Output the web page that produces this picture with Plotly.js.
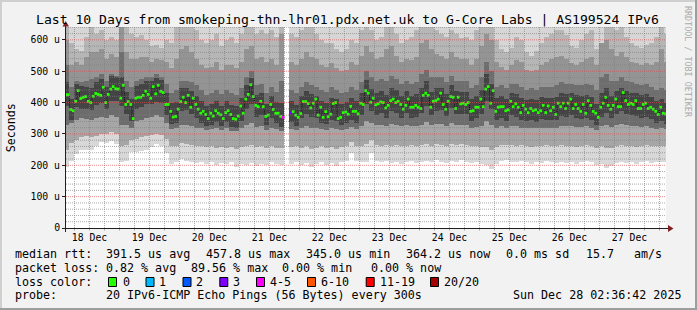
<!DOCTYPE html>
<html><head><meta charset="utf-8">
<script src="https://cdn.plot.ly/plotly-3.0.1.min.js"></script>
<style>html,body{margin:0;padding:0;background:#f2f2f2;overflow:hidden}#chart{width:697px;height:310px}</style>
</head><body><div id="chart"></div>
<script>
// ---------------- data ----------------
// hourly median RTT (microseconds), first hour = 2025-12-18 02:00 UTC
const medianRtt = [
425,
425,378,374,404,438,413,417,419,404,400,420,429,426,423,449,400,426,443,451,444,443,414,455,394,403,394,349,414,417,417,423,436,426,414,451,428,455,436,432,394,
394,372,354,356,379,403,417,400,423,385,414,394,379,366,372,362,349,366,357,374,366,361,349,368,374,362,349,347,357,389,366,411,426,457,419,391,387,404,387,356,
360,394,378,366,366,356,353,null,null,367,371,360,353,365,403,403,397,383,398,411,360,385,353,371,355,363,397,400,349,353,368,370,363,388,372,372,364,398,394,438,430,
401,414,393,396,402,400,383,391,406,411,400,404,394,379,391,411,385,385,391,385,381,423,430,423,385,404,406,411,430,394,379,404,419,417,381,417,396,398,394,400,
372,374,385,385,411,387,443,451,398,438,372,385,387,387,374,377,404,387,396,385,368,391,379,368,381,374,377,368,374,391,368,389,374,385,362,398,387,398,381,398,
411,381,394,381,372,394,366,406,391,372,366,353,385,398,417,391,379,391,411,387,387,432,406,394,398,394,406,381,381,394,398,381,385,379,372,362,385,366,364
];
// hours with packet loss and their loss class
const lossHour = [87, 90];
const lossClass = ['4-5', '3'];
const lossLabels = ['0','1','2','3','4-5','6-10','11-19','20/20'];
const lossColors = ['#26ff00','#00b8ff','#0059ff','#7e00ff','#ff00ff','#ff5500','#ff0000','#a10000'];

// 2-hourly smoke distribution (microseconds), first column = 2025-12-18 02:00-04:00 UTC
const smokeMin = [
195,215,235,248,250,250,262,275,272,278,268,210,215,243,242,245,248,258,268,262,
240,205,210,220,215,212,208,210,205,210,200,207,203,210,195,205,200,206,198,205,200,
210,203,200,null,205,212,200,207,195,203,210,200,206,198,210,215,238,215,210,
212,240,215,210,213,208,212,205,210,214,208,212,215,210,216,212,208,215,212,218,212,
208,210,205,200,188,205,214,218,212,210,215,210,205,212,208,214,210,206,212,208,
210,205,212,215,210,200,205,192,198,208,212,206,210,205,210,215,208,212,210,210];
const smokeP15 = [
250,270,280,290,292,290,295,300,300,305,300,260,265,280,285,290,292,298,300,298,
285,260,262,270,268,265,262,262,258,260,255,258,255,258,252,258,260,265,258,262,255,
260,255,255,null,258,260,255,260,252,256,260,255,258,252,258,262,275,262,262,
268,280,265,262,265,262,265,260,262,265,260,264,268,262,268,265,262,268,265,268,264,
260,262,258,258,250,258,264,266,264,262,264,262,258,262,260,264,262,260,264,262,
262,258,262,265,262,255,260,255,256,262,265,262,262,258,262,265,260,262,262,262];
const smokeP30 = [
330,335,345,350,348,345,350,355,350,360,355,330,330,320,340,345,350,355,360,355,
335,315,318,330,330,325,320,318,312,315,318,312,318,310,308,318,330,335,322,325,312,
320,315,310,null,315,312,318,325,320,318,315,312,318,315,312,315,322,316,325,
340,335,328,330,325,332,330,325,330,325,325,330,338,328,332,332,326,335,330,330,328,
318,322,325,340,330,320,325,320,326,325,320,318,318,318,320,320,320,320,325,325,
326,322,322,324,320,312,325,328,322,328,332,328,326,325,322,324,320,316,318,315];
const smokeP40 = [
390,345,385,380,378,376,392,398,378,405,405,390,365,340,380,385,395,395,402,398,
360,332,335,372,375,365,352,336,325,330,338,324,338,322,320,342,380,395,355,360,328,
352,335,322,null,338,325,350,365,355,350,336,332,346,340,328,334,346,336,360,
395,372,360,366,352,372,368,352,366,350,354,366,388,360,372,376,356,382,364,362,362,
340,350,362,405,380,344,352,342,360,355,345,340,343,338,348,344,345,346,356,354,
360,352,348,350,346,328,355,368,350,362,372,364,360,358,352,354,348,335,342,332];
const smokeP60 = [
465,412,458,452,450,448,465,475,450,485,480,480,435,410,452,458,468,470,478,472,
430,398,402,448,448,436,422,405,390,396,405,390,406,392,388,414,455,478,425,430,395,
422,402,400,null,405,392,420,438,426,420,405,398,416,410,396,402,416,404,432,
472,444,430,438,424,446,440,422,438,422,426,445,468,434,446,448,428,456,436,434,434,
410,422,440,490,460,414,422,410,432,428,415,408,412,408,418,414,415,418,430,426,
432,424,420,424,418,396,432,445,422,436,448,438,432,430,424,426,418,404,412,400];
const smokeP70 = [
520,450,470,465,470,475,480,490,470,490,485,560,470,450,470,475,480,480,490,480,
460,430,440,470,470,465,455,440,425,430,440,428,440,430,425,445,480,500,455,460,430,
450,435,470,null,440,430,450,465,455,450,440,435,450,440,430,435,450,440,465,
500,480,470,475,470,485,475,460,470,460,465,490,505,480,480,480,465,485,470,470,468,
445,455,480,530,500,450,455,445,460,460,450,440,445,440,450,450,450,455,465,460,
460,455,455,460,455,440,480,490,470,470,480,470,465,460,455,458,450,440,445,440];
const smokeP85 = [
600,520,530,520,545,560,560,570,540,555,545,650,560,540,540,545,545,530,540,535,
530,510,540,570,580,560,540,520,510,515,530,505,520,520,510,530,570,580,540,545,530,
540,520,620,null,530,520,540,560,545,540,520,515,525,510,500,505,530,520,550,
580,560,540,545,570,580,550,530,540,535,545,590,600,570,555,550,540,560,545,540,540,
520,540,580,620,600,530,515,505,520,535,530,505,500,505,520,530,540,545,550,540,
525,520,530,540,545,520,590,600,570,550,560,545,530,525,520,525,520,530,570,530];
const smokeP95 = [
680,590,570,565,610,640,620,630,600,610,600,680,640,620,610,615,600,580,585,575,
600,590,640,680,680,660,630,600,590,600,620,580,600,610,590,620,660,650,620,630,620,
630,610,680,null,620,610,630,650,640,620,600,590,590,570,560,570,600,590,630,
660,630,600,610,660,670,620,590,600,610,630,680,680,660,630,620,610,630,620,605,610,
600,630,670,680,680,600,570,560,575,610,600,560,550,565,590,610,620,630,630,615,
580,575,600,620,630,570,680,680,660,630,640,610,590,580,575,585,590,610,680,620];
const smokeMax = [
680,680,680,680,680,680,680,680,680,680,680,680,680,680,680,680,680,680,680,680,
680,680,680,680,680,680,680,680,680,680,680,680,680,680,680,680,680,680,680,680,680,
680,680,680,null,680,680,680,680,680,680,680,680,680,680,680,680,680,680,680,
680,680,680,680,680,680,680,680,680,680,680,680,680,680,680,680,680,680,680,680,680,
680,680,680,680,680,680,680,680,680,680,680,680,680,680,680,680,680,680,680,680,
680,680,680,680,680,680,590,680,680,680,680,680,680,680,680,680,680,680,680,680];

const dayLabels = ['18 Dec','19 Dec','20 Dec','21 Dec','22 Dec','23 Dec','24 Dec','25 Dec','26 Dec','27 Dec'];
const yTickVals = [0,100,200,300,400,500,600];
const yTickText = ['0','100 u','200 u','300 u','400 u','500 u','600 u'];

const titleText = 'Last 10 Days from smokeping-thn-lhr01.pdx.net.uk to G-Core Labs | AS199524 IPv6';
const legendRow1 = ['median rtt:','391.5 us avg','457.8 us max','345.0 us min','364.2 us now','0.0 ms sd','15.7','am/s'];
const legendRow2 = ['packet loss:','0.82 % avg','89.56 % max','0.00 % min','0.00 % now'];
const legendRow4 = ['probe:','20 IPv6-ICMP Echo Pings (56 Bytes) every 300s','Sun Dec 28 02:36:42 2025'];

// ---------------- layout helpers ----------------
const W = 697, H = 310, ML = 66, MR = 31, MT = 27, MB = 82;
const PW = W - ML - MR, PH = H - MT - MB, PB = H - MB;
const HOUR = 3600000;
const firstHour = Date.UTC(2025, 11, 18, 2);
const viewStart = Date.UTC(2025, 11, 18, 2, 36, 42);
const viewEnd = Date.UTC(2025, 11, 28, 2, 36, 42);
const Y_TOP = 641;
function iso(ms){ return new Date(ms).toISOString().replace('T',' ').replace('Z',''); }
function px(x){ return (x - ML) / PW; }
function py(y){ return (PB - y) / PH; }
const MONO = 'DejaVu Sans Mono, monospace';

// ---------------- traces ----------------
const traces = [];
const colX = smokeMin.map((_, k) => iso(firstHour + (2*k + 1) * HOUR));
const bands = [
  [smokeMin, smokeP15, '#d8d8d8'],
  [smokeP15, smokeP30, '#a6a6a6'],
  [smokeP30, smokeP40, '#6c6c6c'],
  [smokeP40, smokeP60, '#444444'],
  [smokeP60, smokeP70, '#6e6e6e'],
  [smokeP70, smokeP85, '#949494'],
  [smokeP85, smokeP95, '#b6b6b6'],
  [smokeP95, smokeMax, '#d6d6d6']
];
bands.forEach(([lo, hi, color]) => {
  traces.push({
    type: 'bar', x: colX, base: lo,
    y: lo.map((v, k) => (v == null || hi[k] == null) ? null : hi[k] - v),
    width: 2 * HOUR, marker: {color: color, line: {width: 0}}, hoverinfo: 'skip'
  });
});
const stepX = medianRtt.map((_, j) => iso(firstHour + j * HOUR));
const midX = medianRtt.map((_, j) => iso(firstHour + (j + 0.5) * HOUR));
traces.push({type: 'scatter', mode: 'lines', x: stepX, y: medianRtt, line: {shape: 'hv', color: '#111111', width: 1, dash: '1px,1px'}, hoverinfo: 'skip'});
const medColors = medianRtt.map((_, j) => {
  const i = lossHour.indexOf(j);
  return i < 0 ? lossColors[0] : lossColors[lossLabels.indexOf(lossClass[i])];
});
traces.push({type: 'scatter', mode: 'markers', x: midX, y: medianRtt,
  marker: {symbol: 'square', size: 2.8, color: medColors, line: {width: 0}}, hoverinfo: 'skip'});

// ---------------- shapes ----------------
const shapes = [];
const minorCol = 'rgba(128,128,128,0.65)', majorCol = 'rgba(222,79,79,0.65)';
for (let t = Date.UTC(2025, 11, 18, 6); t < viewEnd; t += 6 * HOUR) {
  const major = new Date(t).getUTCHours() === 0;
  const c = major ? majorCol : minorCol;
  shapes.push({type: 'line', layer: 'above', xref: 'x', yref: 'paper', x0: iso(t), x1: iso(t), y0: 0, y1: 1, line: {color: c, width: 1, dash: '1px,1px'}});
  shapes.push({type: 'line', layer: 'above', xref: 'x', yref: 'paper', x0: iso(t), x1: iso(t), y0: 0, y1: py(PB + 2.5), line: {color: c, width: 1}});
}
for (let v = 20; v <= 640; v += 20) {
  const c = (v % 100 === 0) ? majorCol : minorCol;
  shapes.push({type: 'line', layer: 'above', xref: 'paper', yref: 'y', x0: 0, x1: 1, y0: v, y1: v, line: {color: c, width: 1, dash: '1px,1px'}});
}
// axes with arrows
shapes.push({type: 'line', layer: 'above', xref: 'paper', yref: 'paper', x0: px(62), x1: px(669), y0: py(PB + 0.5), y1: py(PB + 0.5), line: {color: '#1f1f1f', width: 1}});
shapes.push({type: 'line', layer: 'above', xref: 'paper', yref: 'paper', x0: px(65.5), x1: px(65.5), y0: py(232), y1: py(24), line: {color: '#1f1f1f', width: 1}});
shapes.push({type: 'path', layer: 'above', xref: 'paper', yref: 'paper',
  path: `M ${px(668)},${py(225)} L ${px(668)},${py(232)} L ${px(673.5)},${py(228.5)} Z`, fillcolor: '#7f1f1f', line: {width: 0}});
shapes.push({type: 'path', layer: 'above', xref: 'paper', yref: 'paper',
  path: `M ${px(62.5)},${py(26.5)} L ${px(69)},${py(26.5)} L ${px(65.7)},${py(21)} Z`, fillcolor: '#7f1f1f', line: {width: 0}});
// image border (3D frame)
shapes.push({type: 'rect', layer: 'above', xref: 'paper', yref: 'paper', x0: px(0), x1: px(W), y0: py(0), y1: py(2), fillcolor: '#cfcfcf', line: {width: 0}});
shapes.push({type: 'rect', layer: 'above', xref: 'paper', yref: 'paper', x0: px(0), x1: px(2), y0: py(0), y1: py(H), fillcolor: '#cfcfcf', line: {width: 0}});
shapes.push({type: 'rect', layer: 'above', xref: 'paper', yref: 'paper', x0: px(W - 2), x1: px(W), y0: py(0), y1: py(H), fillcolor: '#9e9e9e', line: {width: 0}});
shapes.push({type: 'rect', layer: 'above', xref: 'paper', yref: 'paper', x0: px(0), x1: px(W), y0: py(H - 2), y1: py(H), fillcolor: '#9e9e9e', line: {width: 0}});
// loss colour boxes
const boxX = [108, 145.5, 182.5, 219.3, 256, 307, 365.7, 430];
const boxLabelX = [122.5, 159.3, 196, 232.6, 270, 321, 380, 444.3];
lossColors.forEach((c, i) => {
  shapes.push({type: 'rect', layer: 'above', xref: 'paper', yref: 'paper', x0: px(boxX[i] + 0.5), x1: px(boxX[i] + 8.5), y0: py(277.5), y1: py(286.5), fillcolor: c, line: {color: '#000', width: 1}});
});

// ---------------- annotations ----------------
const ann = [];
function txt(s, x, y, size, opts) {
  ann.push(Object.assign({text: s, xref: 'paper', yref: 'paper', x: px(x), y: py(y), xanchor: 'left', yanchor: 'middle',
    showarrow: false, borderpad: 0, borderwidth: 0, font: {family: MONO, size: size, color: '#000'}}, opts || {}));
}
const LF = 11.66;
txt(titleText, 347.5, 19.3, 13.1, {xanchor: 'center'});
const row1X = [15, 106.3, 206.3, 305.7, 406.3, 506.3, 585.7, 634];
legendRow1.forEach((s, i) => txt(s, row1X[i], 254.3, LF));
const row2X = [15, 106.3, 190.5, 281.5, 371.3];
legendRow2.forEach((s, i) => txt(s, row2X[i], 267.7, LF));
txt('loss color:', 15, 281.5, LF);
lossLabels.forEach((s, i) => txt(s, boxLabelX[i], 281.5, LF));
const row4X = [15, 106.3, 512.5];
legendRow4.forEach((s, i) => txt(s, row4X[i], 295, LF));
txt('Seconds', 10.8, 127.5, LF, {xanchor: 'center', textangle: -90});
txt('RRDTOOL / TOBI OETIKER', 688.5, 61.5, 8.4, {xanchor: 'center', textangle: 90, font: {family: MONO, size: 8.4, color: '#aaaaaa'}});

// ---------------- layout ----------------
const layout = {
  width: W, height: H,
  margin: {l: ML, r: MR, t: MT, b: MB, pad: 0},
  paper_bgcolor: '#f2f2f2', plot_bgcolor: '#ffffff',
  showlegend: false, barmode: 'overlay', bargap: 0,
  font: {family: MONO, size: 9.8, color: '#000'},
  xaxis: {type: 'date', range: [iso(viewStart), iso(viewEnd)], showgrid: false, zeroline: false, showline: false,
    tickvals: dayLabels.map((_, i) => iso(Date.UTC(2025, 11, 18 + i, 12))), ticktext: dayLabels,
    ticks: '', tickfont: {family: MONO, size: 9.8, color: '#000'}, ticklabelstandoff: 2, fixedrange: true},
  yaxis: {range: [0, Y_TOP], showgrid: false, zeroline: false, showline: false,
    tickvals: yTickVals, ticktext: yTickText, ticks: 'outside', ticklen: 3, tickcolor: '#1f1f1f', tickwidth: 1,
    tickfont: {family: MONO, size: 9.8, color: '#000'}, fixedrange: true},
  shapes: shapes, annotations: ann
};
Plotly.newPlot('chart', traces, layout, {staticPlot: true, displayModeBar: false});
</script></body></html>
